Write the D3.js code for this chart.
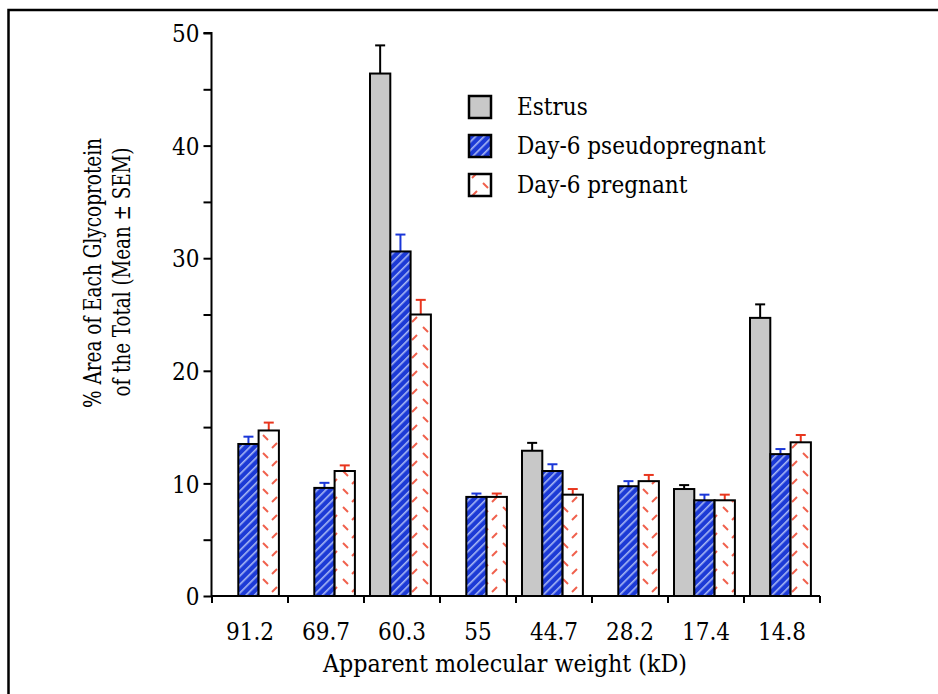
<!DOCTYPE html>
<html><head><meta charset="utf-8">
<script src="https://cdn.jsdelivr.net/npm/d3@7"></script>
<style>body{margin:0;background:#fff}svg{display:block}svg text{font-family:'DejaVu Serif';font-stretch:condensed;fill:#000}</style>
</head><body>
<svg id="c" width="938" height="694"></svg>
<script>
const categories = ["91.2","69.7","60.3","55","44.7","28.2","17.4","14.8"];
const seriesNames = ["Estrus","Day-6 pseudopregnant","Day-6 pregnant"];
const estrus = [0, 0, 46.4, 0, 12.9, 0, 9.5, 24.7];
const estrusErr = [0, 0, 2.5, 0, 0.7, 0, 0.35, 1.2];
const pseudo = [13.5, 9.6, 30.6, 8.8, 11.1, 9.75, 8.5, 12.6];
const pseudoErr = [0.65, 0.45, 1.5, 0.3, 0.6, 0.45, 0.5, 0.45];
const pregnant = [14.7, 11.1, 25.0, 8.8, 9.0, 10.2, 8.5, 13.65];
const pregnantErr = [0.7, 0.5, 1.3, 0.3, 0.5, 0.55, 0.5, 0.65];
const yTicks = [0,10,20,30,40,50];

const FS = 24;
const svg = d3.select("#c");
const defs = svg.append("defs");
const pb = defs.append("pattern").attr("id","blueP").attr("patternUnits","userSpaceOnUse")
  .attr("width",6).attr("height",6).attr("patternTransform","rotate(45)");
pb.append("rect").attr("width",6).attr("height",6).attr("fill","#1c3ad6");
pb.append("rect").attr("x",0).attr("width",1.6).attr("height",6).attr("fill","#a8b8f4");
const pp = defs.append("pattern").attr("id","pinkP").attr("patternUnits","userSpaceOnUse")
  .attr("width",20).attr("height",18);
pp.append("rect").attr("width",20).attr("height",18).attr("fill","#fff");
pp.append("line").attr("x1",3).attr("y1",3).attr("x2",8).attr("y2",8)
  .attr("stroke","#f0604c").attr("stroke-width",2);
pp.append("line").attr("x1",12).attr("y1",16).attr("x2",17).attr("y2",11)
  .attr("stroke","#f0604c").attr("stroke-width",2);

svg.append("rect").attr("x",8.5).attr("y",10).attr("width",960).attr("height",720)
  .attr("fill","none").attr("stroke","#000").attr("stroke-width",2.5);

const x0 = 212, x1 = 820, yTop = 33, yBot = 596;
const x = d3.scaleBand().domain(categories).range([x0,x1]).paddingInner(0).paddingOuter(0);
const y = d3.scaleLinear().domain([0,50]).range([yBot,yTop]);
const barW = 20.3;
const offs = [6, 6+barW, 6+2*barW];

const series = [
  {vals:estrus, errs:estrusErr, fill:"#c8c8c8", stroke:"#000", ec:"#000"},
  {vals:pseudo, errs:pseudoErr, fill:"url(#blueP)", stroke:"#000", ec:"#1a36d8"},
  {vals:pregnant, errs:pregnantErr, fill:"url(#pinkP)", stroke:"#000", ec:"#e8361e"}
];

series.forEach((s,si)=>{
  const g = svg.append("g");
  categories.forEach((c,i)=>{
    const v = s.vals[i];
    const bx = x(c)+offs[si];
    if (v>0) {
      const e = s.errs[i];
      const cx = bx + barW/2;
      g.append("line").attr("x1",cx).attr("x2",cx).attr("y1",y(v)).attr("y2",y(v+e))
        .attr("stroke",s.ec).attr("stroke-width",2);
      g.append("line").attr("x1",cx-5).attr("x2",cx+5).attr("y1",y(v+e)).attr("y2",y(v+e))
        .attr("stroke",s.ec).attr("stroke-width",2);
    }
    g.append("rect").attr("x",bx).attr("y",y(v)).attr("width",barW).attr("height",y(0)-y(v))
      .attr("fill",s.fill).attr("stroke",s.stroke).attr("stroke-width",2);
  });
});

const yAxis = d3.axisLeft(y).tickValues(d3.range(0,51,5)).tickSize(8)
  .tickFormat(d=> yTicks.includes(d) ? d : "");
const ya = svg.append("g").attr("transform",`translate(${x0-0.5},0)`).call(yAxis);
ya.select(".domain").attr("stroke","#000").attr("stroke-width",2).attr("d",`M-8,${yTop}H0V${yBot}`);
ya.selectAll(".tick line").attr("stroke-width",2);
ya.selectAll(".tick text").attr("font-size",FS).attr("x",-12).attr("dy","0.36em");

const xTickPos = d3.range(categories.length+1).map(i=>x0+i*x.bandwidth());
const xa = svg.append("g").attr("transform",`translate(0,${yBot})`);
xa.append("line").attr("x1",x0-0.5).attr("x2",x1).attr("y1",0).attr("y2",0)
  .attr("stroke","#000").attr("stroke-width",2);
xa.selectAll("line.t").data(xTickPos).join("line").attr("class","t")
  .attr("x1",d=>d).attr("x2",d=>d).attr("y1",0).attr("y2",7).attr("stroke","#000").attr("stroke-width",2);
xa.selectAll("text").data(categories).join("text")
  .attr("x",d=>x(d)+x.bandwidth()/2).attr("y",44).attr("text-anchor","middle")
  .attr("font-size",FS).text(d=>d);

svg.append("text").attr("x",505).attr("y",672).attr("text-anchor","middle").attr("font-size",FS)
  .attr("textLength",364).attr("lengthAdjust","spacingAndGlyphs")
  .text("Apparent molecular weight (kD)");

const yl1 = svg.append("text").attr("transform","translate(101,273) rotate(-90)")
  .attr("text-anchor","middle").attr("font-size",FS)
  .attr("textLength",270).attr("lengthAdjust","spacingAndGlyphs")
  .text("% Area of Each Glycoprotein");
const yl2 = svg.append("text").attr("transform","translate(130,272) rotate(-90)")
  .attr("text-anchor","middle").attr("font-size",FS)
  .attr("textLength",249).attr("lengthAdjust","spacingAndGlyphs")
  .text("of the Total (Mean ± SEM)");

const legFills = ["#c8c8c8","url(#blueP)","url(#pinkP)"];
const leg = svg.append("g");
seriesNames.forEach((n,i)=>{
  const ly = 96 + i*39;
  leg.append("rect").attr("x",469).attr("y",ly).attr("width",22).attr("height",22)
    .attr("fill",legFills[i]).attr("stroke","#000").attr("stroke-width",2.5);
  leg.append("text").attr("x",517).attr("y",ly+19).attr("font-size",FS).text(n);
});
</script>
</body></html>
